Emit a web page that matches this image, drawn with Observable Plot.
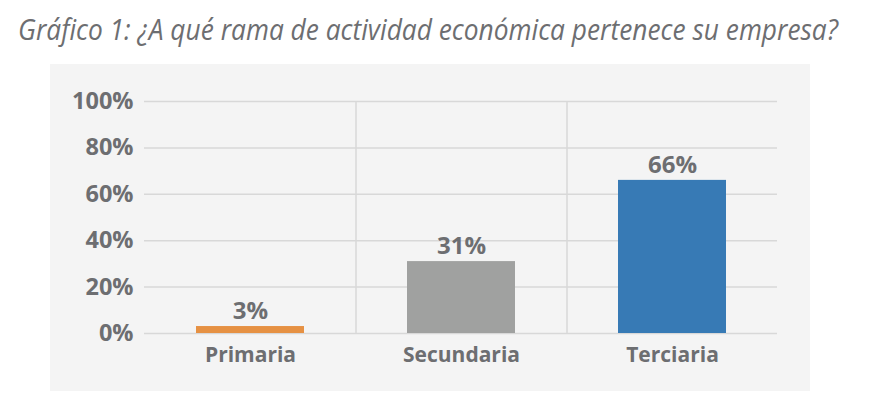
<!DOCTYPE html>
<html>
<head>
<meta charset="utf-8">
<script src="https://cdn.jsdelivr.net/npm/d3@7"></script>
<script src="https://cdn.jsdelivr.net/npm/@observablehq/plot@0.6"></script>
<style>
  html, body { margin: 0; padding: 0; background: #ffffff; }
  body { width: 870px; height: 414px; position: relative; overflow: hidden; }
  #title {
    position: absolute; left: 18px; top: 8px;
    font-family: "Open Sans", sans-serif; font-style: italic; font-weight: 400;
    font-size: 30px; color: #6d6e71; white-space: nowrap;
    transform-origin: 0 0;
  }
  #chart { position: absolute; left: 50px; top: 64px; }
</style>
</head>
<body>
<div id="title">Gráfico 1: ¿A qué rama de actividad económica pertenece su empresa?</div>
<div id="chart"></div>
<script>
const categorias = ["Primaria", "Secundaria", "Terciaria"];
const valores = [0.03, 0.31, 0.66];
const colores = ["#e69143", "#a0a1a0", "#377ab5"];
const yTicks = [0, 0.2, 0.4, 0.6, 0.8, 1.0];

const data = categorias.map((c, i) => ({categoria: c, valor: valores[i], color: colores[i]}));

// fit title width to reference
const t = document.getElementById("title");
const w = t.getBoundingClientRect().width;
t.style.transform = `scaleX(${820 / w})`;

const W = 760, H = 327, mL = 94, mR = 33, mT = 37, mB = 58;
const step = (W - mL - mR) / categorias.length;
const textColor = "#6d6e71";

const chart = Plot.plot({
  width: W,
  height: H,
  marginLeft: mL,
  marginRight: mR,
  marginTop: mT,
  marginBottom: mB,
  style: {
    background: "#f4f4f4",
    fontFamily: "'Open Sans', sans-serif",
    color: textColor
  },
  x: {domain: categorias, paddingInner: 0.49, paddingOuter: 0.245, label: null},
  y: {domain: [0, 1], label: null},
  marks: [
    Plot.ruleY(yTicks, {stroke: "#d8d8d8", strokeWidth: 1.5}),
    Plot.ruleX(categorias.slice(1), {x: d => d, dx: -step / 2, y1: 0, y2: 1, stroke: "#d8d8d8", strokeWidth: 1.5}),
    Plot.barY(data, {x: "categoria", y: "valor", fill: "color"}),
    Plot.text(data, {
      x: "categoria", y: "valor", text: d => d3.format(".0%")(d.valor),
      dy: -15, fill: textColor, fontSize: 24, fontWeight: 700
    }),
    Plot.axisY({
      ticks: yTicks, tickFormat: d3.format(".0%"), tickSize: 0, tickPadding: 11,
      fontSize: 23.5, fontWeight: 700, fill: textColor, label: null
    }),
    Plot.axisX({
      tickSize: 0, tickPadding: 14, fontSize: 21, fontWeight: 700, fill: textColor, label: null
    })
  ]
});
chart.querySelectorAll("g[aria-label='y-axis tick label'] text, g[aria-label='x-axis tick label'] text").forEach(n => n.setAttribute("font-weight", "700"));
document.getElementById("chart").appendChild(chart);
</script>
</body>
</html>
